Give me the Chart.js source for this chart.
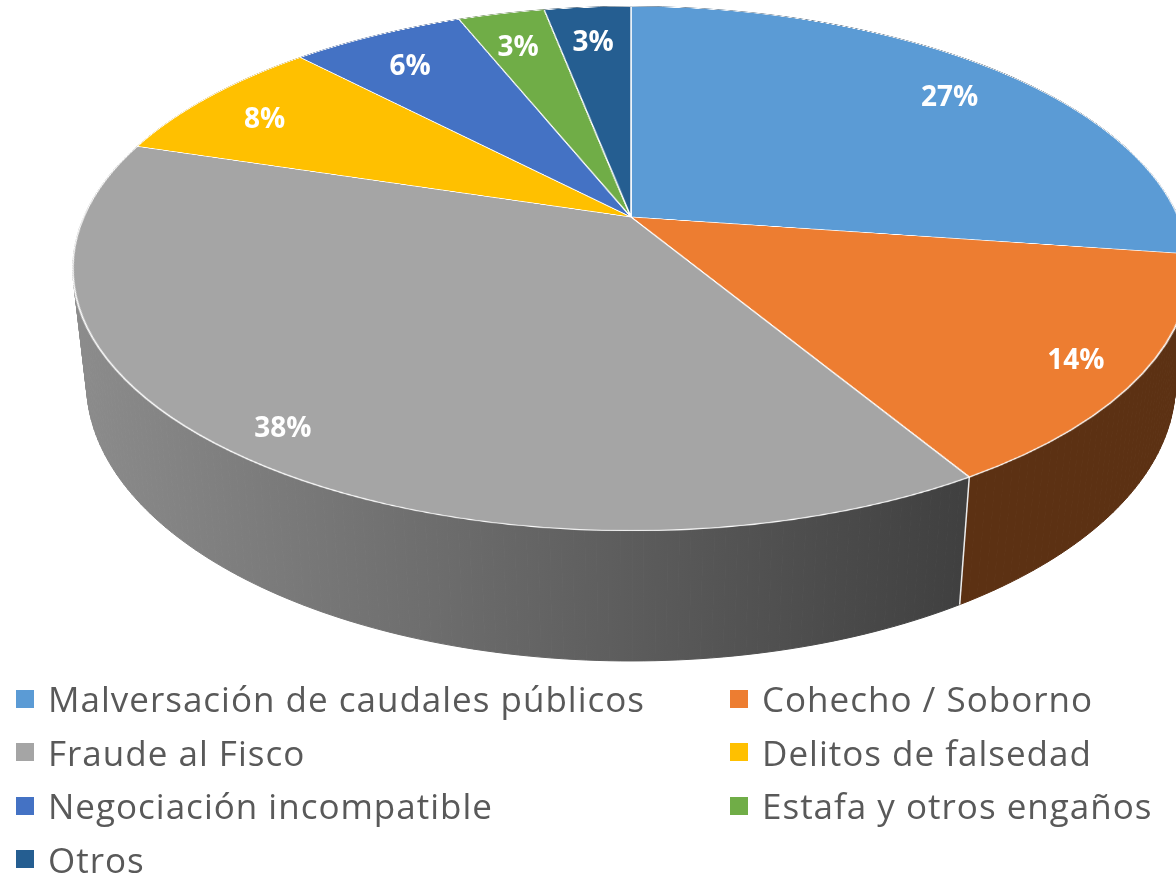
<!DOCTYPE html>
<html>
<head>
<meta charset="utf-8">
<script src="https://cdn.jsdelivr.net/npm/chart.js@4.4.0/dist/chart.umd.min.js"></script>
<style>
  html, body { margin: 0; padding: 0; background: #fff; }
  body { width: 1176px; height: 879px; overflow: hidden; position: relative; font-family: "Open Sans", sans-serif; }
  #side, #over { position: absolute; left: 0; top: 0; }
  /* the top face: Chart.js draws a flat pie, the browser tilts it */
  #wrap { position: absolute; left: 83px; top: -331px; width: 1096px; height: 1096px;
          transform: perspective(2466px) rotateX(62.6deg); transform-origin: 50% 50%; }
  #legend { position: absolute; left: 16px; top: 672px; display: grid;
            grid-template-columns: 714px 440px; grid-auto-rows: 53.5px; color: #595959;
            font-size: 35px; letter-spacing: 1px; }
  .item { display: flex; align-items: center; white-space: nowrap; }
  .box { width: 18px; height: 18px; margin-right: 14px; flex: none; }
</style>
</head>
<body>
<canvas id="side" width="1176" height="879"></canvas>
<div id="wrap"><canvas id="pie" width="1096" height="1096"></canvas></div>
<canvas id="over" width="1176" height="879"></canvas>
<div id="legend"></div>
<script>
const labels = [
    'Malversación de caudales públicos',
    'Cohecho / Soborno',
    'Fraude al Fisco',
    'Delitos de falsedad',
    'Negociación incompatible',
    'Estafa y otros engaños',
    'Otros'
];
const shares = [27, 14, 38, 8, 6, 3, 3];
const colors = ['#5B9BD5', '#ED7D31', '#A5A5A5', '#FFC000', '#4472C4', '#70AD47', '#255E91'];

// same numbers as the css transform on #wrap
const TILT = 62.6 * Math.PI / 180;
const PERSP = 2466;
const DEPTH = 130;
const CX = 631, CY = 217;

function project(x, y, z) {
    const y2 = y * Math.cos(TILT) - z * Math.sin(TILT);
    const z2 = y * Math.sin(TILT) + z * Math.cos(TILT);
    const s = PERSP / (PERSP - z2);
    return { x: CX + x * s, y: CY + y2 * s, z: z2 };
}

function shade(hex, f) {
    const n = parseInt(hex.slice(1), 16);
    const r = Math.round(((n >> 16) & 255) * f);
    const g = Math.round(((n >> 8) & 255) * f);
    const b = Math.round((n & 255) * f);
    return `rgb(${r},${g},${b})`;
}

const sides = {
    id: 'sides',
    afterDraw(chart) {
        const meta = chart.getDatasetMeta(0);
        const ctx = document.getElementById('side').getContext('2d');
        const top = document.getElementById('over').getContext('2d');
        ctx.clearRect(0, 0, 1176, 879);
        top.clearRect(0, 0, 1176, 879);
        const total = shares.reduce((a, b) => a + b, 0);

        // far slices first
        const order = meta.data.map((arc, i) => i).sort((a, b) => {
            const ma = (meta.data[a].startAngle + meta.data[a].endAngle) / 2;
            const mb = (meta.data[b].startAngle + meta.data[b].endAngle) / 2;
            return Math.sin(ma) - Math.sin(mb);
        });

        // outer wall, built from thin strips so the silhouette is filled too
        order.forEach(i => {
            const arc = meta.data[i];
            const R = arc.outerRadius;
            const grad = ctx.createLinearGradient(73, 0, 960, 0);
            grad.addColorStop(0, shade(colors[i], 0.85));
            grad.addColorStop(1, shade(colors[i], 0.39));
            ctx.fillStyle = grad;
            ctx.strokeStyle = grad;
            ctx.lineWidth = 1;
            const steps = Math.max(8, Math.ceil((arc.endAngle - arc.startAngle) * 180 / Math.PI));
            for (let k = 0; k < steps; k++) {
                const a1 = arc.startAngle + (arc.endAngle - arc.startAngle) * k / steps;
                const a2 = arc.startAngle + (arc.endAngle - arc.startAngle) * (k + 1) / steps;
                const p1 = project(R * Math.cos(a1), R * Math.sin(a1), 0);
                const p2 = project(R * Math.cos(a2), R * Math.sin(a2), 0);
                const q2 = project(R * Math.cos(a2), R * Math.sin(a2), -DEPTH);
                const q1 = project(R * Math.cos(a1), R * Math.sin(a1), -DEPTH);
                ctx.beginPath();
                ctx.moveTo(p1.x, p1.y);
                ctx.lineTo(p2.x, p2.y);
                ctx.lineTo(q2.x, q2.y);
                ctx.lineTo(q1.x, q1.y);
                ctx.closePath();
                ctx.fill();
                ctx.stroke();
            }
        });

        // white seams on the front wall
        ctx.strokeStyle = 'rgba(255,255,255,0.9)';
        ctx.lineWidth = 1.5;
        meta.data.forEach(arc => {
            const a = arc.startAngle;
            if (Math.sin(a) < 0.25) return;
            const R = arc.outerRadius;
            const p = project(R * Math.cos(a), R * Math.sin(a), 0);
            const q = project(R * Math.cos(a), R * Math.sin(a), -DEPTH);
            ctx.beginPath();
            ctx.moveTo(p.x, p.y);
            ctx.lineTo(q.x, q.y);
            ctx.stroke();
        });

        // percentage labels
        top.fillStyle = '#ffffff';
        top.font = 'bold 28px "Open Sans"';
        top.textAlign = 'center';
        top.textBaseline = 'middle';
        meta.data.forEach((arc, i) => {
            const mid = (arc.startAngle + arc.endAngle) / 2;
            const R = arc.outerRadius;
            const p = project(R * Math.cos(mid), R * Math.sin(mid), 0);
            const x = CX + 0.87 * (p.x - CX);
            const y = CY + 0.87 * (p.y - CY) + 8;
            top.fillText(Math.round(shares[i] / total * 100) + '%', x, y);
        });
    }
};

new Chart(document.getElementById('pie'), {
    type: 'pie',
    data: {
        labels: labels,
        datasets: [{
            data: shares,
            backgroundColor: colors,
            borderColor: '#ffffff',
            borderWidth: 1.5
        }]
    },
    options: {
        responsive: false,
        animation: false,
        layout: { padding: 0 },
        plugins: {
            legend: { display: false },
            tooltip: { enabled: false }
        }
    },
    plugins: [sides]
});

const legend = document.getElementById('legend');
labels.forEach((name, i) => {
    const item = document.createElement('div');
    item.className = 'item';
    const box = document.createElement('span');
    box.className = 'box';
    box.style.background = colors[i];
    item.appendChild(box);
    item.appendChild(document.createTextNode(name));
    legend.appendChild(item);
});
</script>
</body>
</html>
